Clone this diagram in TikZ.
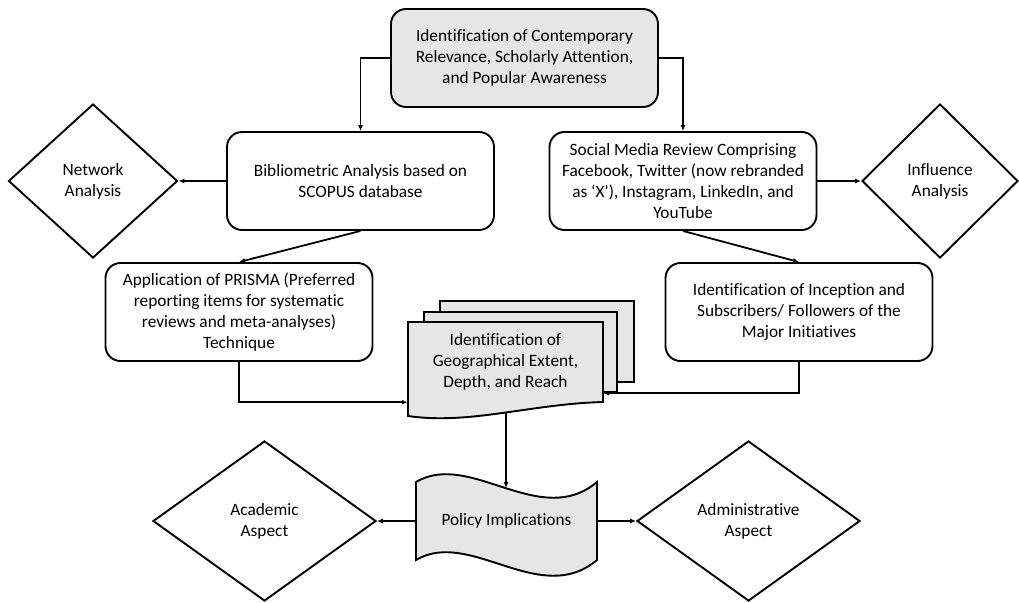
\documentclass[tikz,border=0pt]{standalone}
\usepackage{fontspec}
\setmainfont{Carlito}[RawFeature=-liga]
\usetikzlibrary{shapes.geometric,arrows.meta}
\definecolor{boxgrey}{RGB}{231,230,230}
\begin{document}
\begin{tikzpicture}[x=1pt,y=-1pt,
	box/.style={rectangle,draw,rounded corners=15pt,line width=1.9pt,minimum width=267pt,minimum height=98pt,align=center,inner sep=2pt,font=\fontsize{17.3}{20.8}\selectfont},
	dia/.style={diamond,draw,line width=1.9pt,inner sep=0pt,align=center,font=\fontsize{17.3}{20.8}\selectfont},
	page/.style={draw,line width=1.9pt,fill=boxgrey},
	arr/.style={line width=1.8pt,-{Latex[length=6pt,width=5pt]}}]
	\useasboundingbox (0,0) rectangle (1019,602);

	\node[box,fill=boxgrey] at (524.5,58) (top) {Identification of Contemporary\\Relevance, Scholarly Attention,\\and Popular Awareness};
	\node[box] at (360.5,181) (bib) {Bibliometric Analysis based on\\SCOPUS database};
	\node[box] at (683,181) (social) {Social Media Review Comprising\\Facebook, Twitter (now rebranded\\as ‘X’), Instagram, LinkedIn, and\\YouTube};
	\node[box] at (239,312) (prisma) {Application of PRISMA (Preferred\\reporting items for systematic\\reviews and meta-analyses)\\Technique};
	\node[box] at (799,312) (incep) {Identification of Inception and\\Subscribers/ Followers of the\\Major Initiatives};

	\node[dia,minimum width=169pt,minimum height=154pt] at (93,181) (network) {Network\\Analysis};
	\node[dia,minimum width=156pt,minimum height=154pt] at (940,181) (influence) {Influence\\Analysis};
	\node[dia,minimum width=223pt,minimum height=160pt] at (264.5,521) (academic) {Academic\\Aspect};
	\node[dia,minimum width=223pt,minimum height=160pt] at (748.5,521) (admin) {Administrative\\Aspect};

	% multi document
	\draw[page] (440,301) rectangle (634,382);
	\draw[page] (424,312) rectangle (617,392);
	\draw[page] (408,322) -- (603,322) -- (603,402) .. controls (530,404) and (470,425) .. (408,416) -- cycle;
	\node[align=center,minimum width=195pt,minimum height=80pt,inner sep=0pt,font=\fontsize{17.3}{20.8}\selectfont] at (505.5,362) (geo) {Identification of\\Geographical Extent,\\Depth, and Reach};

	% policy (tape)
	\draw[page] (416,482) .. controls (470,450) and (540,530) .. (597,482) -- (597,560) .. controls (540,608) and (470,528) .. (416,560) -- cycle;
	\node[minimum width=181pt,minimum height=78pt,inner sep=0pt,font=\fontsize{17.3}{20.8}\selectfont] at (506.5,521) (policy) {Policy Implications};
	\coordinate (geobot) at (506,413);
	\coordinate (poltop) at (506,488);

	\draw[arr] (top.west) -| (bib.north);
	\draw[arr] (top.east) -| (social.north);
	\draw[arr] (bib.west) -- (network.east);
	\draw[arr] (social.east) -- (influence.west);
	\draw[arr] (bib.south) -- (prisma.north);
	\draw[arr] (social.south) -- (incep.north);
	\draw[arr] (prisma.south) |- (geo.south west);
	\draw[arr] (incep.south) |- ([yshift=9pt]geo.south east);
	\draw[arr] (geobot) -- (poltop);
	\draw[arr] (policy.west) -- (academic.east);
	\draw[arr] (policy.east) -- (admin.west);
\end{tikzpicture}
\end{document}
